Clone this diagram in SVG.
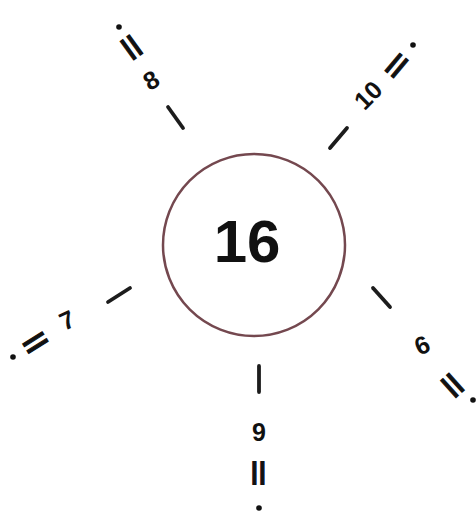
<svg xmlns="http://www.w3.org/2000/svg" width="476" height="518" viewBox="0 0 476 518">
<style>
.tick{stroke:#1c1c1c;stroke-width:3.8;stroke-linecap:round}
.num{font-family:"Liberation Sans",Arial,sans-serif;font-weight:bold;font-size:25px;fill:#111;text-anchor:middle;dominant-baseline:central}
.eq{font-family:"Liberation Sans",Arial,sans-serif;font-weight:bold;font-size:30px;fill:#111;stroke:#111;stroke-width:1;text-anchor:middle;dominant-baseline:central}
.dot{fill:#111}
</style>
<rect width="476" height="518" fill="#ffffff"/>
<g id="connectors">
<line class="tick" x1="168" y1="107" x2="183" y2="128"/>
<line class="tick" x1="330" y1="148" x2="347" y2="128"/>
<line class="tick" x1="373" y1="288" x2="390" y2="307"/>
<line class="tick" x1="259" y1="366" x2="259" y2="392"/>
<line class="tick" x1="108" y1="302" x2="130" y2="288"/>
</g>
<g id="center">
<circle cx="254" cy="245" r="91" fill="none" stroke="#74484f" stroke-width="2.5"/>
<text x="247" y="262" font-family="Liberation Sans, Arial, sans-serif" font-weight="bold" font-size="60" fill="#111" text-anchor="middle">16</text>
</g>
<g id="label-8">
<text class="num" transform="translate(151,80) rotate(-30)">8</text>
<text class="eq" transform="translate(132,47) rotate(54) scale(1.5,1)">=</text>
<circle class="dot" cx="119" cy="27" r="2.8"/>
</g>
<g id="label-10">
<text class="num" transform="translate(368,95) rotate(-45)">10</text>
<text class="eq" transform="translate(396,65) rotate(-50) scale(1.5,1)">=</text>
<circle class="dot" cx="413" cy="45" r="2.8"/>
</g>
<g id="label-6">
<text class="num" transform="translate(422,345) rotate(-25)">6</text>
<text class="eq" transform="translate(453,385) rotate(48) scale(1.5,1)">=</text>
<circle class="dot" cx="473" cy="400" r="2.8"/>
</g>
<g id="label-9">
<text class="num" transform="translate(259,432)">9</text>
<text class="eq" transform="translate(259,473) rotate(90) scale(1.5,1)">=</text>
<circle class="dot" cx="259" cy="508" r="2.8"/>
</g>
<g id="label-7">
<text class="num" transform="translate(67,320) rotate(-25)">7</text>
<text class="eq" transform="translate(35,342) rotate(-32) scale(1.5,1)">=</text>
<circle class="dot" cx="13" cy="357" r="2.8"/>
</g>
</svg>
